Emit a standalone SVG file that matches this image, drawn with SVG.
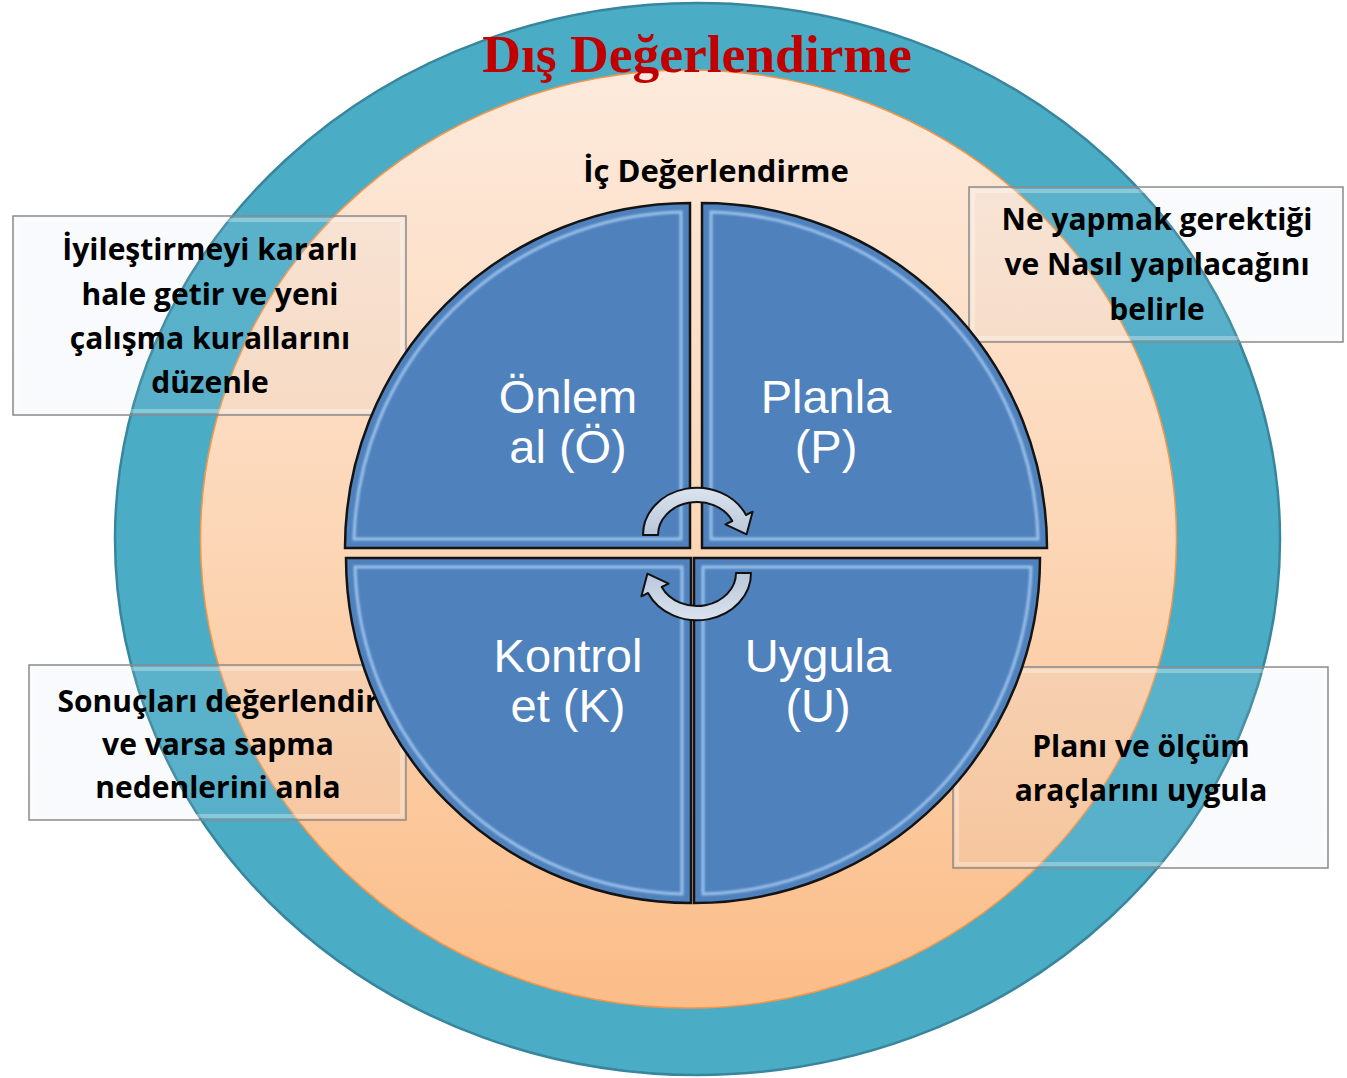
<svg xmlns="http://www.w3.org/2000/svg" width="1347" height="1078" viewBox="0 0 1347 1078">
<defs>
<linearGradient id="peach" x1="0" y1="0" x2="0" y2="1">
<stop offset="0" stop-color="#fdeadc"/>
<stop offset="0.5" stop-color="#fcd6b6"/>
<stop offset="1" stop-color="#fbbd88"/>
</linearGradient>
<linearGradient id="boxg" x1="0" y1="0" x2="0" y2="1">
<stop offset="0" stop-color="#d0daec" stop-opacity="0.12"/>
<stop offset="1" stop-color="#c4cfe4" stop-opacity="0.1"/>
</linearGradient>
<linearGradient id="arrowg" x1="0" y1="0" x2="0" y2="1">
<stop offset="0" stop-color="#dbe3ee"/>
<stop offset="1" stop-color="#b9c7da"/>
</linearGradient>
<filter id="soft" x="-5%" y="-5%" width="110%" height="110%">
<feGaussianBlur stdDeviation="1.2"/>
</filter>
<path id="arrow" d="M 643,535 A 54,47 0 0 1 746,515 L 752.6,511.7 L 746.6,534.3 L 725.4,524.3 L 732.3,521 A 39,33 0 0 0 658,535 Z"/>
</defs>
<style>
.quad{fill:#4f81bd;stroke:#141414;stroke-width:2.5}
.bevel{fill:none;stroke:#a9cdf3;stroke-width:3;opacity:0.85}
.qt{font-family:"Liberation Sans",Arial,sans-serif;font-size:47px;fill:#ffffff;text-anchor:middle}
.box{fill:url(#boxg);stroke:#8a8a8a;stroke-width:1.5}
.boxin{fill:none;stroke:#ffffff;stroke-opacity:0.3;stroke-width:4}
.bt{font-family:"Open Sans","Liberation Sans",sans-serif;font-weight:bold;font-size:30px;fill:#000000;text-anchor:middle}
.arr{fill:url(#arrowg);stroke:#111111;stroke-width:2;stroke-linejoin:round}
</style>

<g id="outer-circle">
<ellipse cx="697.5" cy="539" rx="582.5" ry="536" fill="#4bacc6" stroke="#37869d" stroke-width="2.5"/>
</g>
<g id="inner-circle">
<ellipse cx="688.5" cy="539" rx="488" ry="469" fill="url(#peach)" stroke="#f79646" stroke-width="1.5"/>
</g>
<text id="dis-title" x="697" y="72" font-family="'Liberation Serif','Times New Roman',serif" font-weight="bold" font-size="53.5" fill="#c00000" text-anchor="middle">Dış Değerlendirme</text>
<text id="ic-title" x="716" y="182" class="bt" style="font-size:31px">İç Değerlendirme</text>

<g id="box-iyilestir">
<rect class="box" x="13" y="216" width="393" height="199"/>
<rect class="boxin" x="17" y="220" width="385" height="191"/>
<text class="bt"><tspan x="210" y="260">İyileştirmeyi kararlı</tspan><tspan x="210" y="305">hale getir ve yeni</tspan><tspan x="210" y="349">çalışma kurallarını</tspan><tspan x="210" y="393">düzenle</tspan></text>
</g>
<g id="box-ne-yapmak">
<rect class="box" x="969" y="187" width="374" height="155"/>
<rect class="boxin" x="973" y="191" width="366" height="147"/>
<text class="bt"><tspan x="1157" y="230">Ne yapmak gerektiği</tspan><tspan x="1157" y="275">ve Nasıl yapılacağını</tspan><tspan x="1157" y="320">belirle</tspan></text>
</g>
<g id="box-plani">
<rect class="box" x="953" y="667" width="375" height="201"/>
<rect class="boxin" x="957" y="671" width="367" height="193"/>
<text class="bt"><tspan x="1141" y="757">Planı ve ölçüm</tspan><tspan x="1141" y="801">araçlarını uygula</tspan></text>
</g>
<g id="box-sonuclari">
<rect class="box" x="29" y="665" width="377" height="155"/>
<rect class="boxin" x="33" y="669" width="369" height="147"/>
<text class="bt"><tspan x="218" y="712">Sonuçları değerlendir</tspan><tspan x="218" y="755">ve varsa sapma</tspan><tspan x="218" y="798">nedenlerini anla</tspan></text>
</g>

<g id="quad-onlem">
<path class="quad" d="M 690,548 L 345,548 A 345,345 0 0 1 690,203 Z"/>
<path class="bevel" filter="url(#soft)" d="M 681,539 L 354,539 A 336,336 0 0 1 681,212 Z"/>
<text class="qt"><tspan x="568" y="413">Önlem</tspan><tspan x="568" y="463">al (Ö)</tspan></text>
</g>
<g id="quad-planla">
<path class="quad" d="M 702,548 L 702,203 A 345,345 0 0 1 1047,548 Z"/>
<path class="bevel" filter="url(#soft)" d="M 711,539 L 711,212 A 336,336 0 0 1 1038,539 Z"/>
<text class="qt"><tspan x="826" y="413">Planla</tspan><tspan x="826" y="463">(P)</tspan></text>
</g>
<g id="quad-kontrol">
<path class="quad" d="M 691,558 L 691,903 A 345,345 0 0 1 346,558 Z"/>
<path class="bevel" filter="url(#soft)" d="M 682,567 L 682,894 A 336,336 0 0 1 355,567 Z"/>
<text class="qt"><tspan x="568" y="672">Kontrol</tspan><tspan x="568" y="722">et (K)</tspan></text>
</g>
<g id="quad-uygula">
<path class="quad" d="M 694,558 L 1040,558 A 346,345 0 0 1 694,903 Z"/>
<path class="bevel" filter="url(#soft)" d="M 703,567 L 1031,567 A 337,336 0 0 1 703,894 Z"/>
<text class="qt"><tspan x="818" y="672">Uygula</tspan><tspan x="818" y="722">(U)</tspan></text>
</g>

<g id="connectors">
<use href="#arrow" class="arr"/>
<use href="#arrow" class="arr" transform="rotate(180 697 554)"/>
</g>
</svg>
